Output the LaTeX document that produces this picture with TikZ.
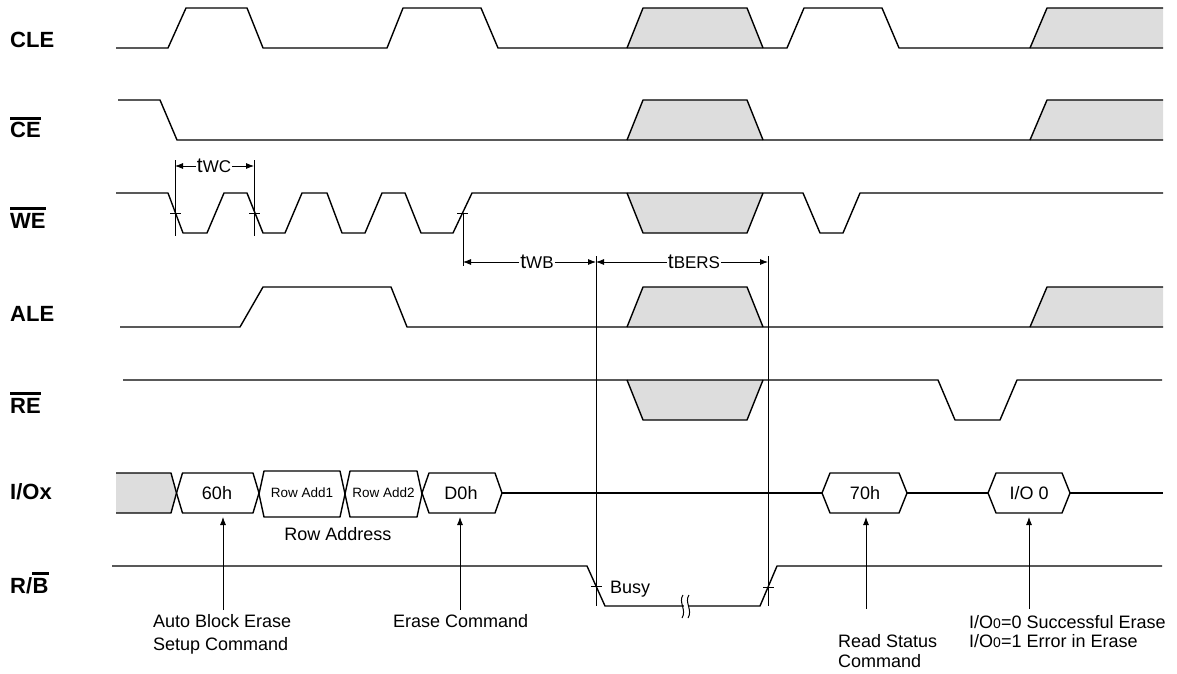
\documentclass[tikz,border=0pt]{standalone}
\usepackage{fontspec}
\setmainfont{Liberation Sans}
\usetikzlibrary{arrows.meta}
\definecolor{shade}{HTML}{DDDDDD}
\tikzset{
  wave/.style={line width=1.4pt, line join=round},
  thinline/.style={line width=0.8pt},
  shadefill/.style={fill=shade, draw=none},
  siglabel/.style={font=\fontsize{22}{26}\selectfont\bfseries, inner sep=0pt, anchor=base west},
  txt/.style={font=\fontsize{18}{22}\selectfont, inner sep=0pt},
  smalltxt/.style={font=\fontsize{13.5}{16}\selectfont, inner sep=0pt},
  ovl/.style={line width=2.4pt},
  dimarrow/.style={thinline, -{Latex[length=8pt,width=6pt]}},
  tick/.style={thinline},
  lbl/.style={font=\fontsize{21}{24}\selectfont, inner sep=1pt, fill=white},
}
\newcommand{\subl}[1]{{\fontsize{17}{20}\selectfont #1}}
\newcommand{\hexpath}[5]{% xl xr ytop ybot inset
  \draw[wave] (#1,{(#3+#4)/2}) -- (#1+#5,#3) -- (#2-#5,#3) -- (#2,{(#3+#4)/2}) -- (#2-#5,#4) -- (#1+#5,#4) -- cycle;}
\begin{document}
\begin{tikzpicture}[x=1pt,y=-1pt]
\useasboundingbox (0,0) rectangle (1177,674);

% ---------- signal labels ----------
\node[siglabel] (cle) at (10,48) {CLE};
\node[siglabel] (ce) at (10,138) {CE};
\draw[ovl] ([yshift=4pt]ce.north west) -- ([yshift=4pt]ce.north east);
\node[siglabel] (we) at (10,228) {WE};
\draw[ovl] ([yshift=4pt]we.north west) -- ([yshift=4pt]we.north east);
\node[siglabel] (ale) at (10,321) {ALE};
\node[siglabel] (re) at (10,413) {RE};
\draw[ovl] ([yshift=4pt]re.north west) -- ([yshift=4pt]re.north east);
\node[siglabel] (io) at (10,499) {I/Ox};
\node[siglabel] (rbr) at (10,593) {R/};
\node[siglabel] (rbb) at (rbr.base east) {B};
\draw[ovl] ([yshift=4pt]rbb.north west) -- ([yshift=4pt]rbb.north east);

% ---------- CLE ----------
\fill[shadefill] (627,48) -- (643,8) -- (747,8) -- (763,48) -- cycle;
\fill[shadefill] (1030,48) -- (1047,8) -- (1163,8) -- (1163,48) -- cycle;
\draw[wave] (116,48) -- (168,48) -- (186,8) -- (247,8) -- (263,48) -- (387,48) -- (403,8) -- (481,8) -- (498,48)
  -- (787,48) -- (804,8) -- (882,8) -- (899,48) -- (1163,48);
\draw[wave] (627,48) -- (643,8) -- (747,8) -- (763,48);
\draw[wave] (1030,48) -- (1047,8) -- (1163,8);

% ---------- CE ----------
\fill[shadefill] (627,140) -- (643,100) -- (747,100) -- (763,140) -- cycle;
\fill[shadefill] (1030,140) -- (1047,100) -- (1163,100) -- (1163,140) -- cycle;
\draw[wave] (118,100) -- (160,100) -- (177,140) -- (1163,140);
\draw[wave] (627,140) -- (643,100) -- (747,100) -- (763,140);
\draw[wave] (1030,140) -- (1047,100) -- (1163,100);

% ---------- WE ----------
\fill[shadefill] (627,193) -- (643,233) -- (747,233) -- (763,193) -- cycle;
\draw[wave] (116,193) -- (168,193) -- (183,233) -- (207,233) -- (224,193) -- (247,193) -- (263,233) -- (285,233)
  -- (302,193) -- (327,193) -- (342,233) -- (365,233) -- (382,193) -- (405,193) -- (421,233) -- (453,233)
  -- (472,193) -- (803,193) -- (820,233) -- (843,233) -- (860,193) -- (1163,193);
\draw[wave] (627,193) -- (643,233) -- (747,233) -- (763,193);
% ticks and tWC
\draw[tick] (170,213) -- (181,213);
\draw[tick] (249,213) -- (260,213);
\draw[tick] (457,213) -- (468,213);
\draw[thinline] (175,160) -- (175,236);
\draw[thinline] (254,160) -- (254,236);
\draw[thinline] (463,213) -- (463,266);
\node[lbl] (twc) at (214,166) {t\subl{WC}};
\coordinate (twcl) at (175,166);
\coordinate (twcr) at (254,166);
\draw[dimarrow] (twc.west) -- (twcl);
\draw[dimarrow] (twc.east) -- (twcr);

% ---------- tWB / tBERS ----------
\draw[thinline] (596,256) -- (596,606);
\draw[thinline] (768,256) -- (768,606);
\node[lbl] (twb) at (537,262) {t\subl{WB}};
\coordinate (twbl) at (463,262);
\coordinate (twbr) at (596,262);
\draw[dimarrow] (twb.west) -- (twbl);
\draw[dimarrow] (twb.east) -- (twbr);
\node[lbl] (tbers) at (694,262) {t\subl{BERS}};
\coordinate (tbersl) at (596,262);
\coordinate (tbersr) at (768,262);
\draw[dimarrow] (tbers.west) -- (tbersl);
\draw[dimarrow] (tbers.east) -- (tbersr);

% ---------- ALE ----------
\fill[shadefill] (627,327) -- (643,287) -- (747,287) -- (763,327) -- cycle;
\fill[shadefill] (1030,327) -- (1047,287) -- (1163,287) -- (1163,327) -- cycle;
\draw[wave] (120,327) -- (240,327) -- (263,287) -- (391,287) -- (407,327) -- (1163,327);
\draw[wave] (627,327) -- (643,287) -- (747,287) -- (763,327);
\draw[wave] (1030,327) -- (1047,287) -- (1163,287);

% ---------- RE ----------
\fill[shadefill] (627,380) -- (643,420) -- (747,420) -- (763,380) -- cycle;
\draw[wave] (123,380) -- (938,380) -- (955,420) -- (1000,420) -- (1017,380) -- (1162,380);
\draw[wave] (627,380) -- (643,420) -- (747,420) -- (763,380);

% ---------- I/Ox ----------
\fill[shadefill] (116,473) -- (171,473) -- (176.5,493) -- (171,513) -- (116,513) -- cycle;
\draw[wave] (116,473) -- (171,473) -- (176.5,493) -- (171,513) -- (116,513);
\hexpath{176.5}{259}{473}{513}{6}
\hexpath{259}{345}{471}{517}{5}
\hexpath{345}{422}{471}{517}{5}
\hexpath{422}{502}{473}{513}{7}
\draw[wave] (502,493) -- (822,493);
\hexpath{822}{907}{473}{513}{8}
\draw[wave] (907,493) -- (988,493);
\hexpath{988}{1070}{473}{513}{8}
\draw[wave] (1070,493) -- (1163,493);
\node[txt] (h60) at (217,493) {60h};
\node[smalltxt] (ra1) at (302,493) {Row Add1};
\node[smalltxt] (ra2) at (383.5,493) {Row Add2};
\node[txt] (hd0) at (461,493) {D0h};
\node[txt] (h70) at (865,493) {70h};
\node[txt] (hio0) at (1029,493) {I/O 0};
\node[txt, anchor=base] (rowaddr) at (338,540) {Row Address};

% ---------- R/B ----------
\draw[wave] (112,566) -- (587,566) -- (605,606) -- (760,606) -- (777,566) -- (1162,566);
\draw[tick] (591,586) -- (602,586);
\draw[tick] (763,587) -- (774,587);
\fill[white] (683.5,597) rectangle (688.5,616);
\draw[line width=1pt] (683,595) .. controls (678,602) and (687,610) .. (682,618);
\draw[line width=1pt] (689,595) .. controls (684,602) and (693,610) .. (688,618);
\node[txt, anchor=base west] (busy) at (610,593) {Busy};

% ---------- pointers ----------
\coordinate (p1s) at (223,610); \coordinate (p1e) at (223,517);
\coordinate (p2s) at (460,610); \coordinate (p2e) at (460,517);
\coordinate (p3s) at (866,609); \coordinate (p3e) at (866,517);
\coordinate (p4s) at (1029,609); \coordinate (p4e) at (1029,517);
\draw[dimarrow] (p1s) -- (p1e);
\draw[dimarrow] (p2s) -- (p2e);
\draw[dimarrow] (p3s) -- (p3e);
\draw[dimarrow] (p4s) -- (p4e);

\node[txt, anchor=base west] (abe1) at (153,627) {Auto Block Erase};
\node[txt, anchor=base west] (abe2) at (153,650) {Setup Command};
\node[txt, anchor=base west] (erc) at (393,627) {Erase Command};
\node[txt, anchor=base west] (rs1) at (838,647) {Read Status};
\node[txt, anchor=base west] (rs2) at (838,667) {Command};
\node[txt, anchor=base west] (st1) at (969,628) {I/O{\fontsize{14}{16}\selectfont 0}=0 Successful Erase};
\node[txt, anchor=base west] (st2) at (969,647) {I/O{\fontsize{14}{16}\selectfont 0}=1 Error in Erase};
\end{tikzpicture}
\end{document}
